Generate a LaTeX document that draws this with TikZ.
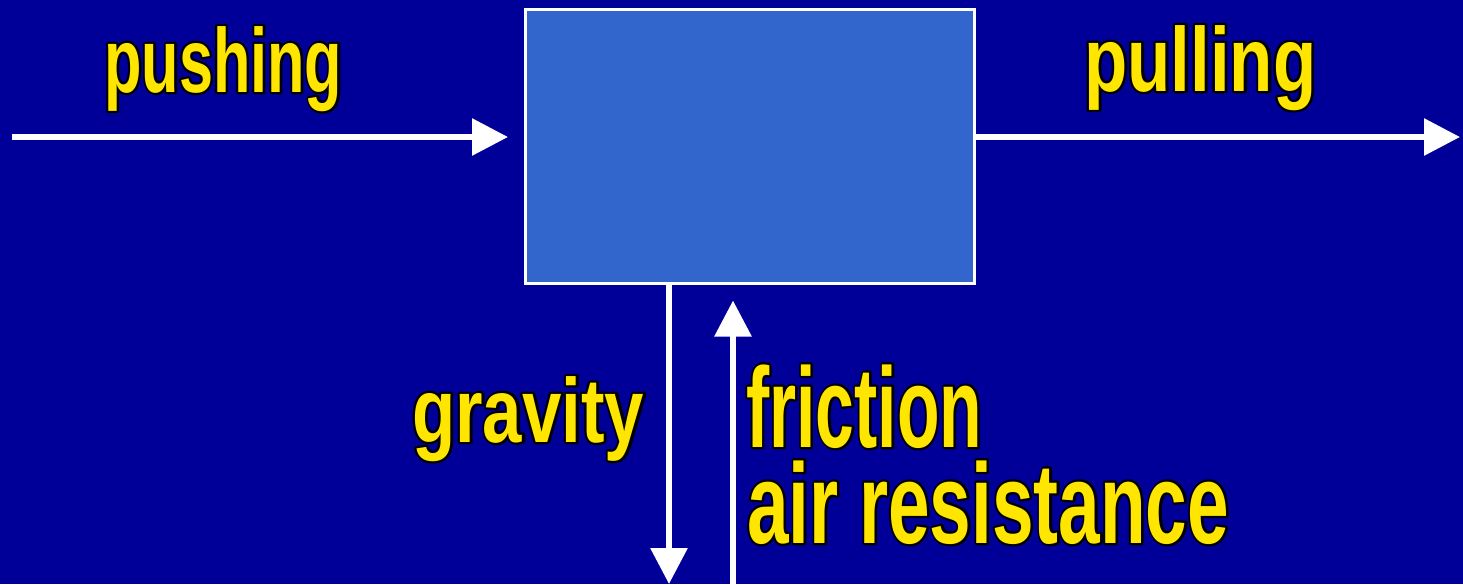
\documentclass[tikz,border=0pt]{standalone}
\usepackage{fontspec}
\usepackage{graphicx}
\usetikzlibrary{arrows.meta}
\newfontfamily\condfont{Liberation Sans}[FakeStretch=0.68,BoldFeatures={FakeStretch=0.68}]
\definecolor{bgblue}{RGB}{0,0,153}
\definecolor{boxblue}{RGB}{51,102,204}
\definecolor{labyellow}{RGB}{255,230,0}
\newcommand\outlined[1]{\rlap{\color{black}\special{pdf:literal direct 2 Tr 4.6 w 1 j}#1\special{pdf:literal direct 0 Tr}}{\color{labyellow}#1}}
\newcommand\lbl[3]{\resizebox{#1}{\height}{\fontsize{#2}{#2}\condfont\bfseries\outlined{#3}}}
\tikzset{
  arr/.style={draw=white, line width=6pt, -{Triangle[length=36pt,width=36pt]}},
  lab/.style={inner sep=0pt, anchor=base west},
}
\begin{document}
\begin{tikzpicture}[x=1pt,y=-1pt]
\fill[bgblue] (0,0) rectangle (1463,584);
\useasboundingbox (0,0) rectangle (1463,584);
\node[draw=white, line width=2.5pt, fill=boxblue, inner sep=0pt, minimum width=449pt, minimum height=274pt, anchor=north west] (box) at (524,8) {};
\coordinate (pushstart) at (12,137);
\coordinate (pullend) at (1460,137);
\coordinate (gravend) at (669,584);
\coordinate (fricstart) at (733,584);
\draw[arr, shorten >=16pt] (pushstart) -- (pushstart -| box.west);
\draw[arr] (pushstart -| box.east) -- (pullend);
\draw[arr] (box.south -| gravend) -- (gravend);
\draw[arr, shorten >=16pt] (fricstart) -- (box.south -| fricstart);
\node[lab] (push) at (104,92) {\lbl{238pt}{91}{pushing}};
\node[lab] (pull) at (1084,91) {\lbl{232pt}{91}{pulling}};
\node[lab] (grav) at (412,442) {\lbl{232pt}{91}{gravity}};
\node[lab] (fric) at (746,447) {\lbl{236pt}{114}{friction}};
\node[lab] (air) at (747,543) {\lbl{482pt}{114}{air resistance}};
\end{tikzpicture}
\end{document}
